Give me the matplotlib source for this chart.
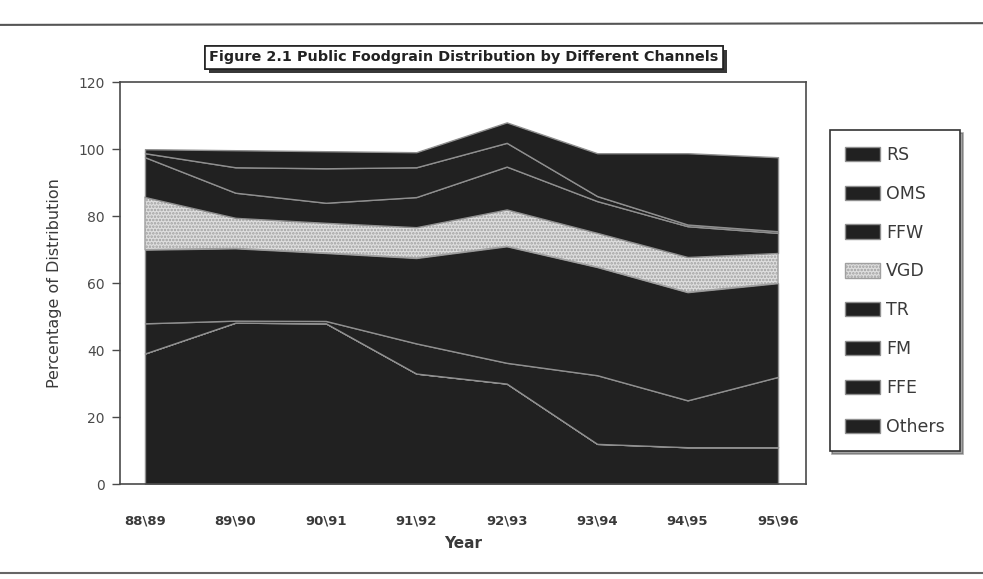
import matplotlib
matplotlib.use("Agg")
from matplotlib import pyplot as plt
from matplotlib import patheffects as pe
from matplotlib.lines import Line2D
import numpy as np

plt.rcParams['font.family'] = ['DejaVu Sans']
plt.rcParams['hatch.linewidth'] = 1.2

years = ['88\\89', '89\\90', '90\\91', '91\\92', '92\\93', '93\\94', '94\\95', '95\\96']
channels = ['RS', 'OMS', 'FFW', 'VGD', 'TR', 'FM', 'FFE', 'Others']

# shares of distribution (%) per channel, one value per year
rs = [1.2, 5.1, 5.1, 4.5, 6.1, 12.8, 21.3, 22.1]
oms = [1.2, 7.6, 10.3, 8.9, 7.1, 1.5, 0.5, 0.5]
ffw = [11.9, 7.5, 6.0, 9.0, 12.8, 9.5, 9.2, 6.0]
vgd = [15.7, 9.1, 9.0, 9.2, 11.0, 10.2, 10.5, 9.0]
tr = [22.0, 21.6, 20.3, 25.5, 34.8, 32.3, 32.3, 28.0]
fm = [9.0, 0.6, 0.7, 9.0, 6.2, 20.5, 14.0, 21.0]
ffe = [0, 0, 0, 0, 0, 0, 0, 0]
others = [39.0, 48.2, 48.0, 33.0, 30.0, 12.0, 11.0, 11.0]

dark = '#212121'
edge = '#8f8f8f'

fig = plt.figure(figsize=(9.83, 5.79), dpi=100)
ax = fig.add_axes([0.122, 0.164, 0.698, 0.694])

x = np.arange(len(years))
# stack from the bottom up, so the legend order is the reverse
stack = [others, ffe, fm, tr, vgd, ffw, oms, rs]
colors = [dark, dark, dark, dark, '#dedede', dark, dark, dark]
polys = ax.stackplot(x, *stack, colors=colors, edgecolor=edge, linewidth=1.0)
polys[4].set_hatch('.....')
polys[4].set_edgecolor('#a0a0a0')

ax.set_xlim(-0.277, 7.31)
ax.set_ylim(0, 120)
ax.set_yticks(range(0, 121, 20))
ax.set_xticks(x)
ax.set_xticklabels(years, fontweight='bold')
ax.tick_params(axis='x', length=0, pad=22, labelsize=9.5, colors='#3a3a3a')
ax.tick_params(axis='y', length=6, width=1, pad=5, labelsize=10, colors='#4a4a4a')
for side in ax.spines.values():
    side.set_color('#4a4a4a')
    side.set_linewidth(1.2)

ax.set_ylabel('Percentage of Distribution', fontsize=11.5, color='#3a3a3a', labelpad=12)
ax.set_xlabel('Year', fontsize=11, fontweight='bold', color='#3a3a3a', labelpad=6)

# title in a framed box with a drop shadow
title = fig.text(0.472, 0.901, 'Figure 2.1 Public Foodgrain Distribution by Different Channels',
                 ha='center', va='center', fontsize=10.4, fontweight='bold', color='#222222',
                 bbox=dict(boxstyle='square,pad=0.3', fc='white', ec='#222222', lw=1.2))
title.get_bbox_patch().set_path_effects(
    [pe.withSimplePatchShadow(offset=(3, -3), shadow_rgbFace='#222222', alpha=0.9), pe.Normal()])

handles = polys[::-1]
leg = fig.legend(handles, channels, loc='upper left', bbox_to_anchor=(0.844, 0.775),
                 frameon=True, fancybox=False, shadow=True, fontsize=12.5,
                 labelspacing=1.2, handlelength=2.0, handleheight=0.9,
                 handletextpad=0.35, borderpad=0.9, borderaxespad=0)
leg.get_frame().set_edgecolor('#333333')
leg.get_frame().set_linewidth(1.2)
for t in leg.get_texts():
    t.set_color('#3a3a3a')

# outer chart border
fig.add_artist(Line2D([0, 1], [0.957, 0.960], transform=fig.transFigure, color='#555555', lw=1.5))
fig.add_artist(Line2D([0, 1], [0.010, 0.010], transform=fig.transFigure, color='#666666', lw=1.5))

fig.savefig('out.png', dpi=100)
